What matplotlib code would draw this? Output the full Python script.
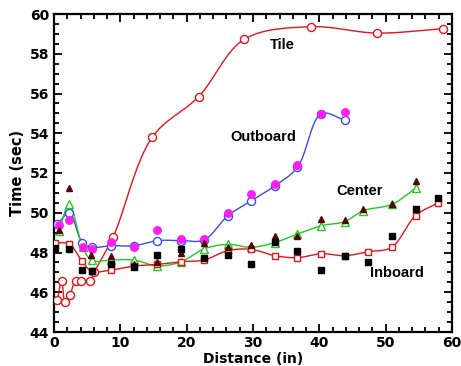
import numpy as np
import matplotlib
matplotlib.use("Agg")
import matplotlib.pyplot as plt
from matplotlib.ticker import MultipleLocator

plt.rcParams['font.family'] = ['DejaVu Sans']

# ---- data ----
tile_x = [0.5, 1.16, 1.66, 2.4, 3.27, 4.07, 5.5, 6.1, 8.94, 14.8, 21.8, 28.7, 38.7, 48.7, 58.6]
tile_y = [45.6, 46.58, 45.52, 45.86, 46.58, 46.58, 46.58, 47.03, 48.8, 53.8, 55.84, 58.73, 59.36, 59.04, 59.26]

out_x = [0.5, 2.3, 4.27, 5.7, 8.6, 12.1, 15.6, 19.2, 22.6, 26.2, 29.7, 33.3, 36.7, 40.3, 43.8]
out_y = [49.43, 49.97, 48.5, 48.26, 48.34, 48.34, 48.6, 48.6, 48.63, 49.84, 50.6, 51.35, 52.29, 54.98, 54.67]
out_raw_x = [0.8, 2.3, 4.3, 5.7, 8.6, 12.1, 15.6, 19.2, 22.6, 26.2, 29.7, 33.3, 36.7, 40.3, 43.8]
out_raw_y = [49.4, 49.63, 48.26, 48.16, 48.54, 48.26, 49.13, 48.68, 48.68, 49.97, 50.93, 51.46, 52.42, 54.98, 55.08]

cen_x = [0.75, 2.3, 4.3, 5.7, 8.6, 12.1, 15.6, 19.2, 22.6, 26.2, 29.7, 33.3, 36.7, 40.3, 43.8, 46.6, 51.0, 54.6]
cen_y = [49.07, 50.43, 48.3, 47.6, 47.62, 47.62, 47.32, 47.54, 48.18, 48.41, 48.26, 48.5, 48.93, 49.35, 49.55, 50.1, 50.43, 51.26]
cen_raw_x = [0.75, 2.3, 5.6, 8.6, 12.1, 15.6, 19.2, 22.6, 26.2, 29.7, 33.3, 36.7, 40.3, 43.8, 46.6, 51.0, 54.6]
cen_raw_y = [49.13, 51.26, 47.85, 47.82, 47.4, 47.54, 48.0, 48.5, 48.26, 48.38, 48.83, 48.83, 49.67, 49.64, 50.17, 50.46, 51.6]

inb_x = [0.15, 2.3, 4.27, 5.7, 8.6, 12.1, 15.6, 19.2, 22.6, 26.2, 29.7, 33.3, 36.7, 40.3, 43.8, 47.4, 50.9, 54.5, 57.9]
inb_y = [48.5, 48.42, 47.55, 47.05, 47.12, 47.32, 47.4, 47.54, 47.62, 48.09, 48.16, 47.84, 47.74, 47.94, 47.84, 48.04, 48.26, 49.85, 50.5]
inb_raw_x = [0.15, 2.3, 4.2, 5.7, 8.6, 12.1, 15.6, 19.2, 22.6, 26.2, 29.7, 33.3, 36.7, 40.3, 43.8, 47.4, 50.9, 54.5, 57.9]
inb_raw_y = [48.25, 48.16, 47.12, 47.07, 47.4, 47.29, 47.87, 48.16, 47.7, 47.87, 47.4, 48.55, 48.07, 47.12, 47.84, 47.51, 48.81, 50.17, 50.72]

labels = {"Tile": (34.4, 58.44), "Outboard": (31.5, 53.8), "Center": (46.0, 51.1), "Inboard": (51.7, 46.97)}

RED = '#e3141b'
BLUE = '#3a4cf0'
GREEN = '#1fcc1f'
MAG = '#ff1ef0'
MAROON = '#560606'


def smooth(xs, ys, sx=6.63, sy=19.875, n=30):
    """Centripetal Catmull-Rom curve through points (scaled to pixel space)."""
    P = np.column_stack([np.asarray(xs) * sx, np.asarray(ys) * sy])
    P = np.vstack([2 * P[0] - P[1], P, 2 * P[-1] - P[-2]])
    out = []
    for i in range(1, len(P) - 2):
        p0, p1, p2, p3 = P[i - 1], P[i], P[i + 1], P[i + 2]
        def tj(ti, a, b):
            return ti + max(np.linalg.norm(b - a), 1e-6) ** 0.5
        t0 = 0.0
        t1 = tj(t0, p0, p1)
        t2 = tj(t1, p1, p2)
        t3 = tj(t2, p2, p3)
        t = np.linspace(t1, t2, n)[:, None]
        A1 = (t1 - t) / (t1 - t0) * p0 + (t - t0) / (t1 - t0) * p1
        A2 = (t2 - t) / (t2 - t1) * p1 + (t - t1) / (t2 - t1) * p2
        A3 = (t3 - t) / (t3 - t2) * p2 + (t - t2) / (t3 - t2) * p3
        B1 = (t2 - t) / (t2 - t0) * A1 + (t - t0) / (t2 - t0) * A2
        B2 = (t3 - t) / (t3 - t1) * A2 + (t - t1) / (t3 - t1) * A3
        C = (t2 - t) / (t2 - t1) * B1 + (t - t1) / (t2 - t1) * B2
        out.append(C)
    C = np.vstack(out)
    return C[:, 0] / sx, C[:, 1] / sy


fig = plt.figure(figsize=(4.61, 3.66), dpi=100)
ax = fig.add_axes([54 / 461, 1 - 332 / 366, 398 / 461, 318 / 366])

lw = 1.0
# Tile
cx, cy = smooth(tile_x, tile_y)
ax.plot(cx, cy, color=RED, lw=lw, zorder=2)
ax.plot(tile_x, tile_y, 'o', ms=5.8, mfc='white', mec=RED, mew=1.0, zorder=3)
# Outboard
cx, cy = smooth(out_x, out_y)
ax.plot(cx, cy, color=BLUE, lw=lw, zorder=2)
ax.plot(out_x, out_y, 'o', ms=5.8, mfc='white', mec=BLUE, mew=1.0, zorder=3)
ax.plot(out_raw_x, out_raw_y, 'o', ms=5.4, mfc=MAG, mec=MAG, zorder=4)
# Center
cx, cy = smooth(cen_x, cen_y)
ax.plot(cx, cy, color=GREEN, lw=lw, zorder=2)
ax.plot(cen_x, cen_y, '^', ms=5.4, mfc='white', mec=GREEN, mew=1.0, zorder=3)
ax.plot(cen_raw_x, cen_raw_y, '^', ms=4.5, mfc=MAROON, mec=MAROON, zorder=4)
# Inboard
cx, cy = smooth(inb_x, inb_y)
ax.plot(cx, cy, color=RED, lw=lw, zorder=2)
ax.plot(inb_x, inb_y, 's', ms=4.8, mfc='white', mec=RED, mew=1.0, zorder=3)
ax.plot(inb_raw_x, inb_raw_y, 's', ms=4.4, mfc='black', mec='black', zorder=4)

for name, (lx, ly) in labels.items():
    ax.text(lx, ly, name, ha='center', va='center', fontsize=10.5, fontweight='bold',
            family=['Liberation Sans', 'DejaVu Sans'], zorder=5)

ax.set_xlim(0, 60)
ax.set_ylim(44, 60)
ax.xaxis.set_major_locator(MultipleLocator(10))
ax.xaxis.set_minor_locator(MultipleLocator(2))
ax.yaxis.set_major_locator(MultipleLocator(2))
ax.yaxis.set_minor_locator(MultipleLocator(0.5))
ax.tick_params(which='both', direction='in', top=True, right=True, width=1.3)
ax.tick_params(which='major', length=6, labelsize=10)
ax.tick_params(axis='y', which='major', pad=3.5)
ax.tick_params(axis='x', which='major', pad=3)
ax.tick_params(which='minor', length=3.5)
for lab in ax.get_xticklabels() + ax.get_yticklabels():
    lab.set_fontweight('bold')
for s in ax.spines.values():
    s.set_linewidth(1.6)

ax.set_xlabel('Distance (in)', fontsize=10, fontweight='bold', labelpad=1)
ax.set_ylabel('Time (sec)', fontsize=10.5, fontweight='bold', labelpad=3)

fig.savefig('out.png', dpi=100)
